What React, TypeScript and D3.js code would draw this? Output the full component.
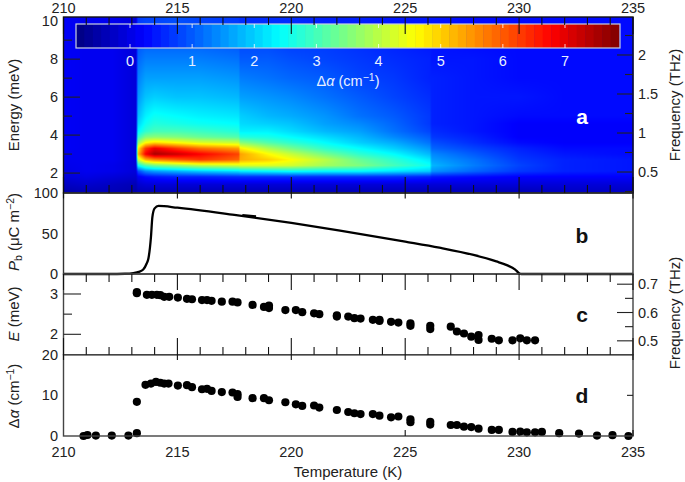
import * as d3 from "d3";
import { useRef, useEffect } from "react";

// Heat map: absorption change per temperature column (rows follow mapEnergy)
const mapEnergy = [1.0, 1.4, 1.8, 2.1, 2.4, 2.7, 3.0, 3.3, 3.6, 3.9, 4.2, 4.6, 5, 6, 7, 8, 9, 10, 10.3];
const mapTemps = [210, 211, 212.2, 213.2, 213.25, 213.6, 214, 215, 216, 217.7, 217.75, 219, 220, 221.5, 223, 224.5, 226.1, 226.15, 228, 230, 232, 235];
const mapValues = [
  [-0.5, -0.3, -0.1, 0, 0.05, 0.1, 0.1, 0.15, 0.15, 0.15, 0.15, 0.15, 0.15, 0.15, 0.15, 0.15, 0.15, 0.15, 0.15],
  [-0.4, -0.2, 0, 0.1, 0.1, 0.1, 0.1, 0.1, 0.1, 0.1, 0.1, 0.1, 0.1, 0.1, 0.1, 0.1, 0.1, 0.1, 0.1],
  [-0.4, -0.3, -0.1, 0.05, 0.05, 0.1, 0.1, 0.1, 0.1, 0.1, 0.1, 0.1, 0.1, 0.1, 0.1, 0.1, 0.1, 0.1, 0.1],
  [-0.5, -0.4, -0.2, -0.1, -0.1, -0.1, -0.1, -0.1, -0.1, -0.1, -0.1, -0.1, -0.1, -0.1, -0.1, -0.1, -0.1, -0.1, -0.1],
  [-0.4, -0.2, 0.1, 0.8, 2.4, 4.0, 5.0, 4.6, 3.6, 2.8, 2.3, 2.0, 1.8, 1.5, 1.3, 1.1, 0.9, 0.7, 0.7],
  [-0.4, -0.1, 0.3, 1.4, 3.1, 5.2, 6.8, 6.3, 4.6, 3.5, 2.8, 2.5, 2.3, 1.9, 1.6, 1.3, 1.0, 0.8, 0.8],
  [-0.4, -0.1, 0.4, 1.6, 3.4, 5.6, 7.5, 6.9, 4.9, 3.6, 3.0, 2.7, 2.5, 2.0, 1.6, 1.3, 1.0, 0.8, 0.8],
  [-0.4, -0.1, 0.5, 1.8, 3.7, 6.0, 7.2, 6.3, 4.6, 3.5, 3.0, 2.6, 2.4, 1.9, 1.6, 1.3, 1.0, 0.9, 0.9],
  [-0.4, -0.1, 0.5, 2.0, 4.0, 6.3, 6.8, 5.8, 4.3, 3.3, 2.9, 2.5, 2.3, 1.9, 1.6, 1.3, 1.0, 0.8, 0.8],
  [-0.4, -0.1, 0.6, 2.2, 4.2, 5.9, 6.2, 5.4, 4.1, 3.1, 2.7, 2.4, 2.2, 1.8, 1.5, 1.2, 0.9, 0.7, 0.7],
  [-0.4, -0.1, 0.6, 2.3, 4.3, 5.3, 5.4, 4.7, 3.6, 2.7, 2.3, 2.1, 2.0, 1.6, 1.3, 1.0, 0.8, 0.6, 0.6],
  [-0.4, -0.1, 0.6, 2.4, 4.3, 5.0, 4.6, 3.9, 3.1, 2.6, 2.3, 2.0, 1.8, 1.5, 1.2, 1.0, 0.8, 0.6, 0.6],
  [-0.4, -0.1, 0.6, 2.5, 4.2, 4.6, 4.1, 3.4, 2.8, 2.4, 2.1, 1.9, 1.7, 1.4, 1.1, 0.9, 0.7, 0.6, 0.6],
  [-0.4, -0.1, 0.6, 2.4, 3.8, 4.0, 3.4, 2.8, 2.4, 2.1, 1.8, 1.6, 1.5, 1.2, 1.0, 0.8, 0.7, 0.5, 0.5],
  [-0.4, -0.1, 0.6, 2.4, 3.5, 3.3, 2.8, 2.4, 2.0, 1.8, 1.6, 1.4, 1.2, 1.0, 0.8, 0.7, 0.6, 0.5, 0.5],
  [-0.4, -0.1, 0.6, 2.2, 3.0, 2.8, 2.4, 2.0, 1.7, 1.4, 1.2, 1.1, 1.0, 0.8, 0.7, 0.6, 0.5, 0.4, 0.4],
  [-0.4, -0.1, 0.5, 2.0, 2.5, 2.2, 1.8, 1.5, 1.2, 1.0, 0.8, 0.7, 0.7, 0.6, 0.5, 0.5, 0.4, 0.4, 0.4],
  [-0.4, -0.1, 0.4, 1.5, 1.8, 1.6, 1.4, 1.1, 0.9, 0.7, 0.6, 0.5, 0.5, 0.5, 0.5, 0.4, 0.4, 0.4, 0.4],
  [-0.4, -0.1, 0.3, 1.1, 1.3, 1.2, 1.0, 0.8, 0.6, 0.5, 0.4, 0.4, 0.4, 0.4, 0.4, 0.4, 0.3, 0.3, 0.3],
  [-0.4, -0.1, 0.2, 0.7, 0.8, 0.7, 0.6, 0.5, 0.3, 0.2, 0.2, 0.2, 0.3, 0.4, 0.3, 0.3, 0.3, 0.3, 0.3],
  [-0.3, -0.1, 0.2, 0.5, 0.5, 0.5, 0.4, 0.3, 0.2, 0.2, 0.2, 0.2, 0.3, 0.3, 0.3, 0.3, 0.3, 0.3, 0.3],
  [-0.3, -0.1, 0.2, 0.4, 0.4, 0.4, 0.3, 0.3, 0.2, 0.2, 0.2, 0.2, 0.3, 0.3, 0.3, 0.3, 0.3, 0.3, 0.3],
];

// Panel b: polarisation curve
const polT = [210, 212, 212.7, 213.07, 213.3, 213.5, 213.65, 213.73, 213.84, 213.9, 214, 214.17, 215, 217.5, 220, 222.14, 225, 226.5, 228, 229, 229.46, 229.83, 230, 230.1, 235];
const polP = [0, 0, 0.3, 1.2, 2.6, 5.5, 13, 19.5, 46, 70, 81, 84, 81.9, 73, 63, 53.5, 40, 32.5, 23.5, 15.5, 11, 5.5, 1, 0, 0];
const polStubT = [217.85, 218.45];
const polStubP = [72.8, 71];

// Panel c: gap energy
const gapT = [213.22, 213.22, 213.66, 213.88, 214.1, 214.25, 214.42, 214.64, 215.02, 215.42, 215.64, 216.08, 216.3, 216.5, 216.95, 217.42, 217.64, 218.3, 218.8, 219.02, 219.02, 219.74, 220.2, 220.48, 221, 221.23, 222, 222, 222.5, 222.77, 223.04, 223.58, 223.87, 223.87, 224.38, 224.7, 225.23, 225.23, 226.1, 226.1, 227, 227.27, 227.58, 227.9, 228.22, 228.22, 228.8, 229.11, 229.71, 230.05, 230.34, 230.7];
const gapE = [3.05, 3.02, 2.98, 2.98, 2.98, 2.97, 2.93, 2.93, 2.91, 2.88, 2.87, 2.85, 2.85, 2.83, 2.81, 2.81, 2.79, 2.73, 2.68, 2.71, 2.65, 2.6, 2.6, 2.55, 2.52, 2.5, 2.47, 2.44, 2.44, 2.4, 2.39, 2.36, 2.36, 2.33, 2.31, 2.29, 2.27, 2.21, 2.21, 2.13, 2.19, 2.07, 2.02, 1.94, 1.98, 1.86, 1.89, 1.85, 1.85, 1.9, 1.85, 1.85];

// Panel d: absorption strength
const strT = [210.88, 211.05, 211.42, 212.12, 212.85, 213.22, 213.22, 213.6, 213.84, 214.06, 214.25, 214.42, 214.61, 215.02, 215.42, 215.64, 216.08, 216.3, 216.5, 216.95, 217.42, 217.64, 217.64, 218.3, 218.8, 219.02, 219.74, 220.2, 220.48, 221, 221.23, 222, 222.5, 222.77, 223.04, 223.58, 223.87, 224.38, 224.7, 225.23, 225.23, 226.1, 226.1, 227, 227.27, 227.58, 227.9, 228.22, 228.8, 229.11, 229.71, 230.05, 230.34, 230.7, 231, 231.76, 232.63, 233.42, 234.1, 234.8];
const strA = [0, 0.25, 0.1, 0.1, 0.1, 0.7, 8.4, 12.6, 12.9, 13.3, 13.1, 12.9, 12.9, 12.4, 12.5, 12, 11.5, 11.6, 11.1, 10.8, 10.7, 10.3, 9.6, 9.3, 9.3, 8.8, 8.3, 7.8, 7.4, 7.5, 7, 6.4, 5.9, 5.6, 5.4, 5.4, 5, 4.6, 4.8, 4.1, 3.4, 3.5, 2.8, 2.7, 2.7, 2.3, 2.2, 1.8, 1.5, 1.5, 1, 1.1, 0.9, 0.9, 1, 0.7, 0.6, 0.1, 0.2, 0];

const tempTicks = [210, 215, 220, 225, 230, 235];
const tempMinor = d3.range(211, 235).filter((t) => t % 5 !== 0);
const barTicks = [0, 1, 2, 3, 4, 5, 6, 7];

const FONT = "'Liberation Sans', Arial, sans-serif";
const INK = "#222";

export default function App() {
  const svgRef = useRef<SVGSVGElement>(null);

  useEffect(() => {
    const svg = d3.select(svgRef.current);
    svg.selectAll("*").remove();

    const left = 63.5;
    const right = 633;
    const x = d3.scaleLinear().domain([210, 235]).range([left, right]);

    const yMap = d3.scaleLinear().domain([0.95, 10.22]).range([193, 17]);
    const yMapF = d3.scaleLinear().domain([0.231, 2.487]).range([193, 17]);
    const yPol = d3.scaleLinear().domain([0, 100]).range([274, 193]);
    const yGap = d3.scaleLinear().domain([1.494, 3.496]).range([354.7, 274]);
    const yGapF = d3.scaleLinear().domain([0.451, 0.736]).range([354.7, 274]);
    const yStr = d3.scaleLinear().domain([0, 20]).range([436, 354.7]);

    // Jet, straight segments so the cyan and yellow stay saturated
    const jet = d3.piecewise(d3.interpolateRgb, [
      "#00007f", "#0000ff", "#007fff", "#00ffff", "#7fff7f", "#ffff00", "#ff7f00", "#ff0000", "#7f0000",
    ]);
    const color = (v: number) => jet(Math.min(Math.max((v + 0.87) / 8.74, 0), 1));

    // Heat map painted pixel by pixel, then placed as an svg image
    const mapW = Math.round(right - left);
    const mapH = 176;
    const canvas = document.createElement("canvas");
    canvas.width = mapW;
    canvas.height = mapH;
    const ctx = canvas.getContext("2d")!;
    const locate = (arr: number[], v: number) => {
      const i = Math.min(Math.max(d3.bisectRight(arr, v) - 1, 0), arr.length - 2);
      return [i, Math.min(Math.max((v - arr[i]) / (arr[i + 1] - arr[i]), 0), 1)];
    };
    for (let py = 0; py < mapH; py++) {
      const [r, fr] = locate(mapEnergy, yMap.invert(17 + py + 0.5));
      for (let px = 0; px < mapW; px++) {
        const [c, fc] = locate(mapTemps, x.invert(left + px + 0.5));
        const a = mapValues[c][r] * (1 - fr) + mapValues[c][r + 1] * fr;
        const b = mapValues[c + 1][r] * (1 - fr) + mapValues[c + 1][r + 1] * fr;
        ctx.fillStyle = color(a * (1 - fc) + b * fc);
        ctx.fillRect(px, py, 1, 1);
      }
    }
    svg.append("image")
      .attr("x", left).attr("y", 17)
      .attr("width", mapW).attr("height", mapH)
      .attr("href", canvas.toDataURL());

    // Colour bar
    const xBar = d3.scaleLinear().domain([0, 7]).range([130, 565]);
    const barSteps = d3.range(-0.87, 7.87, 8.74 / 64);
    const bar = svg.append("g");
    bar.selectAll("rect")
      .data(barSteps)
      .join("rect")
      .attr("x", (d) => xBar(d))
      .attr("y", 24)
      .attr("width", xBar(8.74 / 64) - xBar(0) + 0.5)
      .attr("height", 24)
      .attr("fill", (d) => color(d + 4.37 / 64));
    bar.append("rect")
      .attr("x", 76).attr("y", 24).attr("width", 544).attr("height", 24)
      .attr("fill", "none").attr("stroke", "#c8d0e0").attr("stroke-width", 1.2);
    bar.selectAll("line.t")
      .data(barTicks.flatMap((d) => [[d, 24, 28], [d, 44, 48]]))
      .join("line")
      .attr("x1", (d) => xBar(d[0])).attr("x2", (d) => xBar(d[0]))
      .attr("y1", (d) => d[1]).attr("y2", (d) => d[2])
      .attr("stroke", "#fff").attr("opacity", 0.8);
    bar.selectAll("text")
      .data(barTicks)
      .join("text")
      .attr("x", (d) => xBar(d))
      .attr("y", 66)
      .attr("text-anchor", "middle")
      .attr("fill", "#e8f0ff")
      .style("font-size", "14.5px")
      .text((d) => d);

    // Panel b
    const pol = d3.line<number>().x((d) => x(polT[d])).y((d) => yPol(polP[d])).curve(d3.curveMonotoneX);
    svg.append("path")
      .attr("d", pol(d3.range(polT.length)))
      .attr("fill", "none").attr("stroke", "#000").attr("stroke-width", 2.3);
    svg.append("path")
      .attr("d", d3.line<number>().x((d) => x(polStubT[d])).y((d) => yPol(polStubP[d]))([0, 1]))
      .attr("stroke", "#000").attr("stroke-width", 2.3);

    // Panels c and d
    svg.append("g").selectAll("circle")
      .data(gapT.map((t, i) => [t, gapE[i]]))
      .join("circle")
      .attr("cx", (d) => x(d[0])).attr("cy", (d) => yGap(d[1])).attr("r", 4.1).attr("fill", "#000");
    svg.append("g").selectAll("circle")
      .data(strT.map((t, i) => [t, strA[i]]))
      .join("circle")
      .attr("cx", (d) => x(d[0])).attr("cy", (d) => yStr(d[1])).attr("r", 4.1).attr("fill", "#000");

    // Frames
    const frame = (top: number, bottom: number, stroke: string) =>
      svg.append("rect")
        .attr("x", left).attr("y", top)
        .attr("width", right - left).attr("height", bottom - top)
        .attr("fill", "none").attr("stroke", stroke).attr("stroke-width", 1.4);
    frame(17, 193, "#111");
    frame(193, 274, "#333");
    frame(274, 354.7, "#444");
    frame(354.7, 436, "#444");

    // Tick marks
    const vTicks = (vals: number[], y0: number, y1: number) =>
      svg.append("g").selectAll("line")
        .data(vals).join("line")
        .attr("x1", (d) => x(d)).attr("x2", (d) => x(d))
        .attr("y1", y0).attr("y2", y1)
        .attr("stroke", "#111").attr("stroke-width", 1.1);
    vTicks(tempTicks, 17, 34);
    vTicks(tempMinor, 17, 25);
    vTicks(tempTicks, 177, 198.5);
    vTicks(tempMinor, 185, 193);
    vTicks(tempTicks, 274, 290);
    vTicks(tempMinor, 274, 282);
    vTicks(tempTicks, 338, 360);
    vTicks(tempMinor, 347, 354.7);
    vTicks([225, 230, 235], 430, 436);

    const hTicks = (vals: number[], y: d3.ScaleLinear<number, number>, x0: number, x1: number) =>
      svg.append("g").selectAll("line")
        .data(vals).join("line")
        .attr("x1", x0).attr("x2", x1)
        .attr("y1", (d) => y(d)).attr("y2", (d) => y(d))
        .attr("stroke", "#222").attr("stroke-width", 1.1);
    hTicks([2, 4, 6, 8], yMap, left, 80);
    hTicks([3, 5, 7, 9], yMap, left, 72);
    hTicks([0.5, 1, 1.5, 2], yMapF, 617, right);
    hTicks([0.25, 0.75, 1.25, 1.75, 2.25], yMapF, 625, right);
    hTicks([2, 3], yGap, left, 81);
    hTicks([2.5], yGap, left, 72);
    hTicks([0.5, 0.6, 0.7], yGapF, 617, right);
    hTicks([0.55, 0.65], yGapF, 625, right);
    hTicks([10], yStr, 627, right);

    // Tick labels
    const label = (tx: number, ty: number, s: string, anchor = "middle", size = "14.5px") =>
      svg.append("text")
        .attr("x", tx).attr("y", ty)
        .attr("text-anchor", anchor)
        .attr("fill", INK)
        .style("font-size", size)
        .text(s);
    tempTicks.forEach((t) => {
      label(x(t), 13, String(t));
      label(x(t), 457, String(t));
    });
    [2, 4, 6, 8, 10].forEach((v) => label(58, yMap(v) + 5, String(v), "end"));
    [0, 50, 100].forEach((v) => label(58, yPol(v) + 5, String(v), "end"));
    [2, 3].forEach((v) => label(58, yGap(v) + 5, String(v), "end"));
    [0, 10, 20].forEach((v) => label(58, yStr(v) + 5, String(v), "end"));
    [0.5, 1, 1.5, 2].forEach((v) => label(638, yMapF(v) + 5, String(v), "start"));
    [0.5, 0.6, 0.7].forEach((v) => label(638, yGapF(v) + 5, d3.format(".1f")(v), "start"));

    label(348, 477, "Temperature (K)", "middle", "15px");

    // Axis titles made of tspans: italics, and raised or lowered runs
    const addParts = (t: any, parts: [string, string?][]) => {
      let shift = 0;
      parts.forEach(([s, kind]) => {
        const target = kind === "sup" ? -5 : kind === "sub" ? 3 : 0;
        const span = t.append("tspan").attr("dy", target - shift).text(s);
        shift = target;
        if (kind === "i") span.style("font-style", "italic");
        if (kind === "sup" || kind === "sub") span.style("font-size", "10.5px");
      });
    };
    const title = (tx: number, ty: number, parts: [string, string?][]) => {
      const t = svg.append("text")
        .attr("transform", `translate(${tx},${ty}) rotate(-90)`)
        .attr("text-anchor", "middle")
        .attr("fill", INK)
        .style("font-size", "15px");
      addParts(t, parts);
    };
    title(19, 105, [["Energy (meV)"]]);
    title(19, 232, [["P", "i"], ["b", "sub"], [" (μC m"], ["−2", "sup"], [")"]]);
    title(19, 314, [["E", "i"], [" (meV)"]]);
    title(19, 396, [["Δ"], ["α", "i"], [" (cm"], ["−1", "sup"], [")"]]);
    title(680, 105, [["Frequency (THz)"]]);
    title(680, 313, [["Frequency (THz)"]]);

    // Colour bar title
    const barTitle = svg.append("text")
      .attr("x", 348).attr("y", 86)
      .attr("text-anchor", "middle")
      .attr("fill", "#e8f0ff")
      .style("font-size", "14.5px");
    addParts(barTitle, [["Δ"], ["α", "i"], ["  (cm"], ["−1", "sup"], [")"]]);

    // Panel letters
    [["a", 124, "#fff"], ["b", 243, "#111"], ["c", 322, "#111"], ["d", 403, "#111"]].forEach(([s, ty, fill]) => {
      svg.append("text")
        .attr("x", 582).attr("y", ty as number)
        .attr("text-anchor", "middle")
        .attr("fill", fill as string)
        .style("font-size", "21px")
        .style("font-weight", "bold")
        .text(s as string);
    });
  }, []);

  return (
    <svg
      ref={svgRef}
      width={685}
      height={482}
      style={{ position: "absolute", left: 0, top: 0, fontFamily: FONT, background: "#fff" }}
    ></svg>
  );
}
